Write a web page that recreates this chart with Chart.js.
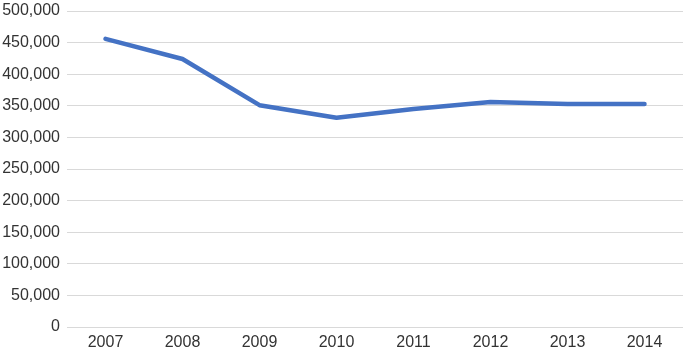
<!DOCTYPE html>
<html>
<head>
<meta charset="utf-8">
<script src="https://cdn.jsdelivr.net/npm/chart.js@4/dist/chart.umd.min.js"></script>
<style>
    html, body { margin: 0; padding: 0; background: #fff; }
    #wrap { width: 685px; height: 353px; }
</style>
</head>
<body>
<div id="wrap"><canvas id="lineChart" width="685" height="353"></canvas></div>
<script>
const years = ["2007", "2008", "2009", "2010", "2011", "2012", "2013", "2014"];
const values = [456000, 424000, 351000, 331000, 345000, 356000, 353000, 353000];
const yMin = 0;
const yMax = 500000;
const yStep = 50000;

const ctx = document.getElementById("lineChart").getContext("2d");

new Chart(ctx, {
    type: "line",
    data: {
        labels: years,
        datasets: [
            {
                data: values,
                borderColor: "#4472C4",
                borderWidth: 4.5,
                pointRadius: 0,
                tension: 0,
                borderCapStyle: "round",
                borderJoinStyle: "round",
                fill: false
            }
        ]
    },
    options: {
        responsive: false,
        animation: false,
        layout: { padding: { top: 11, right: 2, left: 0, bottom: 0 } },
        plugins: {
            legend: { display: false },
            tooltip: { enabled: false }
        },
        scales: {
            x: {
                offset: true,
                grid: { display: false, drawTicks: false },
                border: { display: false },
                ticks: {
                    color: "#333333",
                    font: { family: "'Liberation Sans', Arial, sans-serif", size: 16 },
                    padding: 6,
                    maxRotation: 0
                },
                afterFit: (scale) => { scale.height = 26; }
            },
            y: {
                min: yMin,
                max: yMax,
                grid: { color: "#d9d9d9", lineWidth: 1, drawTicks: false },
                border: { display: false },
                ticks: {
                    stepSize: yStep,
                    color: "#333333",
                    font: { family: "'Liberation Sans', Arial, sans-serif", size: 16 },
                    padding: 7,
                    callback: (v) => v.toLocaleString("en-US")
                },
                afterFit: (scale) => {
                    scale.width = 67;
                    scale.paddingTop = 0;
                    scale.paddingBottom = 0;
                }
            }
        }
    }
});
</script>
</body>
</html>
